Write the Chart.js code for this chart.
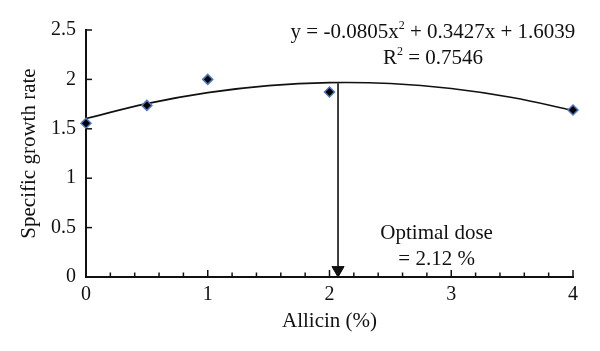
<!DOCTYPE html>
<html>
<head>
<meta charset="utf-8">
<script src="https://cdn.jsdelivr.net/npm/chart.js@4/dist/chart.umd.min.js"></script>
<style>
  html, body { margin: 0; padding: 0; background: #fff; }
  #wrap { width: 600px; height: 351px; }
</style>
</head>
<body>
<div id="wrap"><canvas id="growthChart" width="600" height="351"></canvas></div>
<script>
// measured points
const DOSE = [0, 0.5, 1, 2, 4];
const GROWTH = [1.556, 1.737, 2.0, 1.872, 1.69];

// polynomial trend line
const TREND_X = [0, 0.5, 1, 1.5, 2, 2.5, 3, 3.5, 4];
const TREND_Y = [1.604, 1.755, 1.866, 1.937, 1.967, 1.958, 1.908, 1.817, 1.687];

// arrow to the optimal dose
const ARROW_X = [2.07, 2.07];
const ARROW_Y = [1.962, 0.07];

const X_TICKS = [0, 1, 2, 3, 4];
const Y_TICKS = [0, 0.5, 1, 1.5, 2, 2.5];

const FONT = '"Liberation Serif", "DejaVu Serif", serif';
const INK = '#111';

// inward tick marks + text labels
const decor = {
    id: 'decor',
    afterDatasetsDraw(chart) {
        const { ctx, scales: { x, y } } = chart;
        ctx.save();
        ctx.strokeStyle = INK;
        ctx.lineWidth = 1.5;
        const y0 = y.getPixelForValue(0);
        const x0 = x.getPixelForValue(0);
        // x ticks, major every 1, minor every 0.2
        for (let i = 0; i <= 20; i++) {
            const px = x.getPixelForValue(i * 0.2);
            const len = i % 5 === 0 ? 7 : 4.5;
            ctx.beginPath();
            ctx.moveTo(px, y0);
            ctx.lineTo(px, y0 - len);
            ctx.stroke();
        }
        Y_TICKS.forEach(v => {
            const py = y.getPixelForValue(v);
            ctx.beginPath();
            ctx.moveTo(x0, py);
            ctx.lineTo(x0 + 6, py);
            ctx.stroke();
        });

        ctx.fillStyle = INK;
        ctx.textBaseline = 'middle';
        const cx = x.getPixelForValue(2.85);
        drawRich(ctx, [['y = -0.0805x'], ['2', true], [' + 0.3427x + 1.6039']], cx, 32);
        drawRich(ctx, [['R'], ['2', true], [' = 0.7546']], cx, 58);
        ctx.font = '21px ' + FONT;
        ctx.textAlign = 'center';
        const ox = x.getPixelForValue(2.88);
        ctx.fillText('Optimal dose', ox, 233);
        ctx.fillText('= 2.12 %', ox, 259);
        ctx.restore();
    }
};

function drawRich(ctx, parts, cx, cy) {
    const big = '21px ' + FONT, small = '12px ' + FONT;
    let total = 0;
    parts.forEach(([t, sup]) => { ctx.font = sup ? small : big; total += ctx.measureText(t).width; });
    let px = cx - total / 2;
    ctx.textAlign = 'left';
    parts.forEach(([t, sup]) => {
        ctx.font = sup ? small : big;
        ctx.fillText(t, px, sup ? cy - 6 : cy);
        px += ctx.measureText(t).width;
    });
}

new Chart(document.getElementById('growthChart'), {
    type: 'scatter',
    data: {
        datasets: [
            {
                type: 'line',
                data: TREND_X.map((v, i) => ({ x: v, y: TREND_Y[i] })),
                borderColor: INK,
                borderWidth: 1.6,
                pointRadius: 0,
                tension: 0.4,
                fill: false,
                order: 2
            },
            {
                type: 'line',
                data: ARROW_X.map((v, i) => ({ x: v, y: ARROW_Y[i] })),
                borderColor: INK,
                borderWidth: 1.6,
                pointRadius: [0, 7],
                pointStyle: 'triangle',
                rotation: 180,
                pointBackgroundColor: INK,
                pointBorderColor: INK,
                pointBorderWidth: 1,
                clip: false,
                order: 3
            },
            {
                data: DOSE.map((v, i) => ({ x: v, y: GROWTH[i] })),
                pointStyle: 'rectRot',
                pointRadius: 5,
                pointBackgroundColor: '#000',
                pointBorderColor: '#4f78c4',
                pointBorderWidth: 1.5,
                clip: false,
                order: 1
            }
        ]
    },
    options: {
        responsive: false,
        animation: false,
        events: [],
        layout: { padding: { left: 0, right: 27, top: 30, bottom: 0 } },
        plugins: { legend: { display: false }, tooltip: { enabled: false } },
        scales: {
            x: {
                type: 'linear',
                min: 0, max: 4,
                afterBuildTicks: s => { s.ticks = X_TICKS.map(v => ({ value: v })); },
                afterFit: s => { s.height = 74; },
                grid: { display: true, drawOnChartArea: false, drawTicks: false },
                border: { display: true, color: INK, width: 2 },
                ticks: { color: INK, padding: 6, font: { family: FONT, size: 20 } },
                title: { display: true, text: 'Allicin (%)', color: INK, padding: { top: 0, bottom: 17 }, font: { family: FONT, size: 21 } }
            },
            y: {
                min: 0, max: 2.5,
                afterBuildTicks: s => { s.ticks = Y_TICKS.map(v => ({ value: v })); },
                afterFit: s => { s.width = 86; },
                grid: { display: true, drawOnChartArea: false, drawTicks: false },
                border: { display: true, color: INK, width: 2 },
                ticks: { color: INK, padding: 10, font: { family: FONT, size: 20 }, callback: v => String(v) },
                title: { display: true, text: 'Specific growth rate', color: INK, padding: { top: 17, bottom: 0 }, font: { family: FONT, size: 21 } }
            }
        }
    },
    plugins: [decor]
});
</script>
</body>
</html>
